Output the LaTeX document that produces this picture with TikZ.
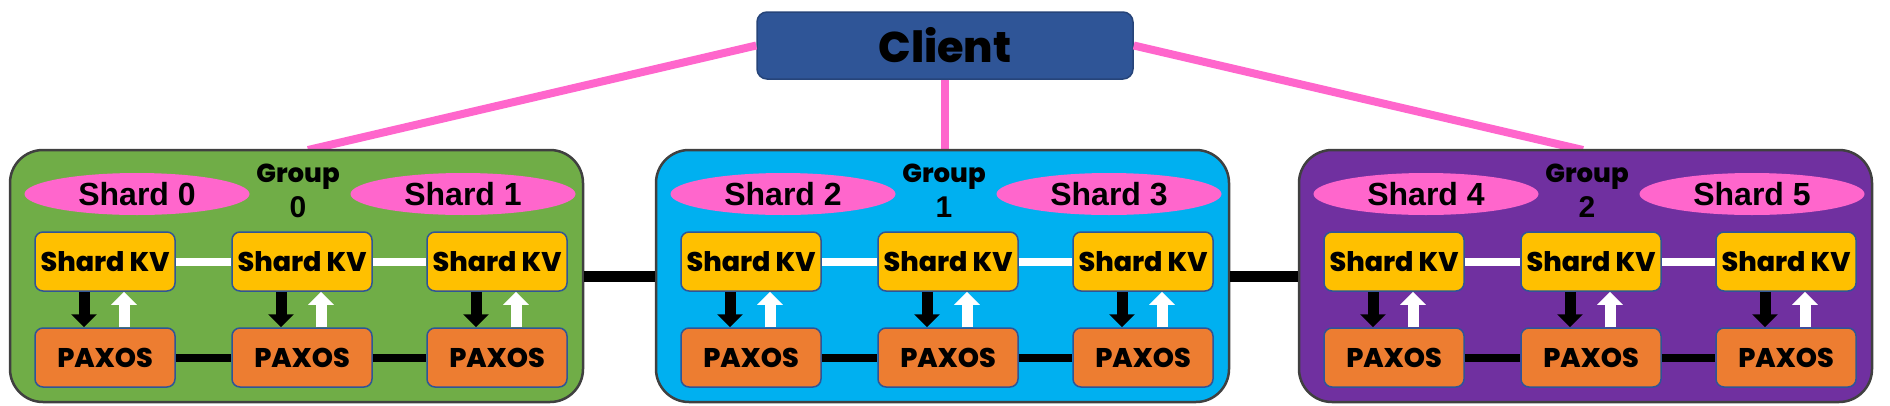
\documentclass[tikz,border=0pt]{standalone}
\usepackage{fontspec}
\usepackage{tikz}
\usetikzlibrary{calc,shapes.geometric,arrows.meta}
\newfontfamily\popfont{Poppins}[BoldFont={* ExtraBold}]
\newfontfamily\arialfont{Liberation Sans}
\definecolor{clientblue}{HTML}{2F5597}
\definecolor{grpgreen}{HTML}{70AD47}
\definecolor{grpcyan}{HTML}{00B0F0}
\definecolor{grppurple}{HTML}{7030A0}
\definecolor{shardpink}{HTML}{FF66CC}
\definecolor{kvyellow}{HTML}{FFC000}
\definecolor{pxorange}{HTML}{ED7D31}
\definecolor{edgeblue}{HTML}{2F5597}
\definecolor{grpedge}{HTML}{404040}
\tikzset{
	groupbox/.style={draw=grpedge, line width=2.5pt, rounded corners=33pt, minimum width=573pt, minimum height=252pt, inner sep=0pt},
	shardell/.style={ellipse, fill=shardpink, minimum width=225pt, minimum height=42pt, inner sep=0pt, font=\arialfont\bfseries\fontsize{32}{32}\selectfont},
	kvbox/.style={draw=edgeblue, line width=1.5pt, fill=kvyellow, rounded corners=8pt, minimum width=140pt, minimum height=59pt, inner sep=0pt, font=\popfont\bfseries\fontsize{27}{27}\selectfont},
	pxbox/.style={kvbox, fill=pxorange},
	grplabel/.style={inner sep=0pt, font=\popfont\bfseries\fontsize{26}{26}\selectfont},
	grpnum/.style={inner sep=0pt, font=\arialfont\bfseries\fontsize{30}{30}\selectfont},
	pinkline/.style={line width=8pt, color=shardpink},
	kvlink/.style={line width=8pt, color=white},
	pxlink/.style={line width=8pt, color=black},
	downarr/.style={line width=11pt, color=black, -{Triangle[width=25pt,length=13pt]}},
	uparr/.style={line width=11pt, color=white, -{Triangle[width=25pt,length=13pt]}}
}

\begin{document}
\begin{tikzpicture}[x=1pt,y=-1pt]
		%%%%% START %%%%%
		\useasboundingbox (0,0) rectangle (1890,405);
		
		\node[draw=clientblue!80!black, line width=1.5pt, fill=clientblue, rounded corners=10pt, minimum width=376pt, minimum height=67pt, inner sep=0pt, font=\popfont\bfseries\fontsize{43}{43}\selectfont] (client) at (945, 45.5) {Client};
		
		\coordinate (g0top) at (308, 150);
		\coordinate (g1top) at (945, 150);
		\coordinate (g2top) at (1583, 150);
		\draw[pinkline] (client.west) -- (g0top);
		\draw[pinkline] (client.south) -- (g1top);
		\draw[pinkline] (client.east) -- (g2top);
		
		\node[groupbox, fill=grpgreen] (g0) at (296.5, 276) {};
		\node[groupbox, fill=grpcyan] (g1) at (942.5, 276) {};
		\node[groupbox, fill=grppurple] (g2) at (1585.5, 276) {};
		\draw[line width=11pt] (g0.east) -- (g1.west);
		\draw[line width=11pt] (g1.east) -- (g2.west);
		
		%% group 0
		\node[shardell] (s0) at (137, 194) {Shard 0};
		\node[shardell] (s1) at (463, 194) {Shard 1};
		\node[grplabel] (gl0) at (298, 177) {Group};
		\node[grpnum] (gn0) at (298, 207) {0};
		\node[kvbox] (kv00) at (105, 261.5) {Shard KV};
		\node[kvbox] (kv01) at (302, 261.5) {Shard KV};
		\node[kvbox] (kv02) at (497, 261.5) {Shard KV};
		\node[pxbox] (px00) at (105, 357.5) {PAXOS};
		\node[pxbox] (px01) at (302, 357.5) {PAXOS};
		\node[pxbox] (px02) at (497, 357.5) {PAXOS};
		\draw[kvlink] (kv00.east) -- (kv01.west);
		\draw[kvlink] (kv01.east) -- (kv02.west);
		\draw[pxlink] (px00.east) -- (px01.west);
		\draw[pxlink] (px01.east) -- (px02.west);
		\draw[downarr] ([xshift=-21pt]kv00.south) -- ([xshift=-21pt]px00.north);
		\draw[uparr] ([xshift=19pt]px00.north) -- ([xshift=19pt]kv00.south);
		\draw[downarr] ([xshift=-21pt]kv01.south) -- ([xshift=-21pt]px01.north);
		\draw[uparr] ([xshift=19pt]px01.north) -- ([xshift=19pt]kv01.south);
		\draw[downarr] ([xshift=-21pt]kv02.south) -- ([xshift=-21pt]px02.north);
		\draw[uparr] ([xshift=19pt]px02.north) -- ([xshift=19pt]kv02.south);
		
		%% group 1
		\node[shardell] (s2) at (783, 194) {Shard 2};
		\node[shardell] (s3) at (1109, 194) {Shard 3};
		\node[grplabel] (gl1) at (944, 177) {Group};
		\node[grpnum] (gn1) at (944, 207) {1};
		\node[kvbox] (kv10) at (751, 261.5) {Shard KV};
		\node[kvbox] (kv11) at (948, 261.5) {Shard KV};
		\node[kvbox] (kv12) at (1143, 261.5) {Shard KV};
		\node[pxbox] (px10) at (751, 357.5) {PAXOS};
		\node[pxbox] (px11) at (948, 357.5) {PAXOS};
		\node[pxbox] (px12) at (1143, 357.5) {PAXOS};
		\draw[kvlink] (kv10.east) -- (kv11.west);
		\draw[kvlink] (kv11.east) -- (kv12.west);
		\draw[pxlink] (px10.east) -- (px11.west);
		\draw[pxlink] (px11.east) -- (px12.west);
		\draw[downarr] ([xshift=-21pt]kv10.south) -- ([xshift=-21pt]px10.north);
		\draw[uparr] ([xshift=19pt]px10.north) -- ([xshift=19pt]kv10.south);
		\draw[downarr] ([xshift=-21pt]kv11.south) -- ([xshift=-21pt]px11.north);
		\draw[uparr] ([xshift=19pt]px11.north) -- ([xshift=19pt]kv11.south);
		\draw[downarr] ([xshift=-21pt]kv12.south) -- ([xshift=-21pt]px12.north);
		\draw[uparr] ([xshift=19pt]px12.north) -- ([xshift=19pt]kv12.south);
		
		%% group 2
		\node[shardell] (s4) at (1426, 194) {Shard 4};
		\node[shardell] (s5) at (1752, 194) {Shard 5};
		\node[grplabel] (gl2) at (1587, 177) {Group};
		\node[grpnum] (gn2) at (1587, 207) {2};
		\node[kvbox] (kv20) at (1394, 261.5) {Shard KV};
		\node[kvbox] (kv21) at (1591, 261.5) {Shard KV};
		\node[kvbox] (kv22) at (1786, 261.5) {Shard KV};
		\node[pxbox] (px20) at (1394, 357.5) {PAXOS};
		\node[pxbox] (px21) at (1591, 357.5) {PAXOS};
		\node[pxbox] (px22) at (1786, 357.5) {PAXOS};
		\draw[kvlink] (kv20.east) -- (kv21.west);
		\draw[kvlink] (kv21.east) -- (kv22.west);
		\draw[pxlink] (px20.east) -- (px21.west);
		\draw[pxlink] (px21.east) -- (px22.west);
		\draw[downarr] ([xshift=-21pt]kv20.south) -- ([xshift=-21pt]px20.north);
		\draw[uparr] ([xshift=19pt]px20.north) -- ([xshift=19pt]kv20.south);
		\draw[downarr] ([xshift=-21pt]kv21.south) -- ([xshift=-21pt]px21.north);
		\draw[uparr] ([xshift=19pt]px21.north) -- ([xshift=19pt]kv21.south);
		\draw[downarr] ([xshift=-21pt]kv22.south) -- ([xshift=-21pt]px22.north);
		\draw[uparr] ([xshift=19pt]px22.north) -- ([xshift=19pt]kv22.south);
		
		%%%%% END %%%%%
	\end{tikzpicture}
\end{document}
